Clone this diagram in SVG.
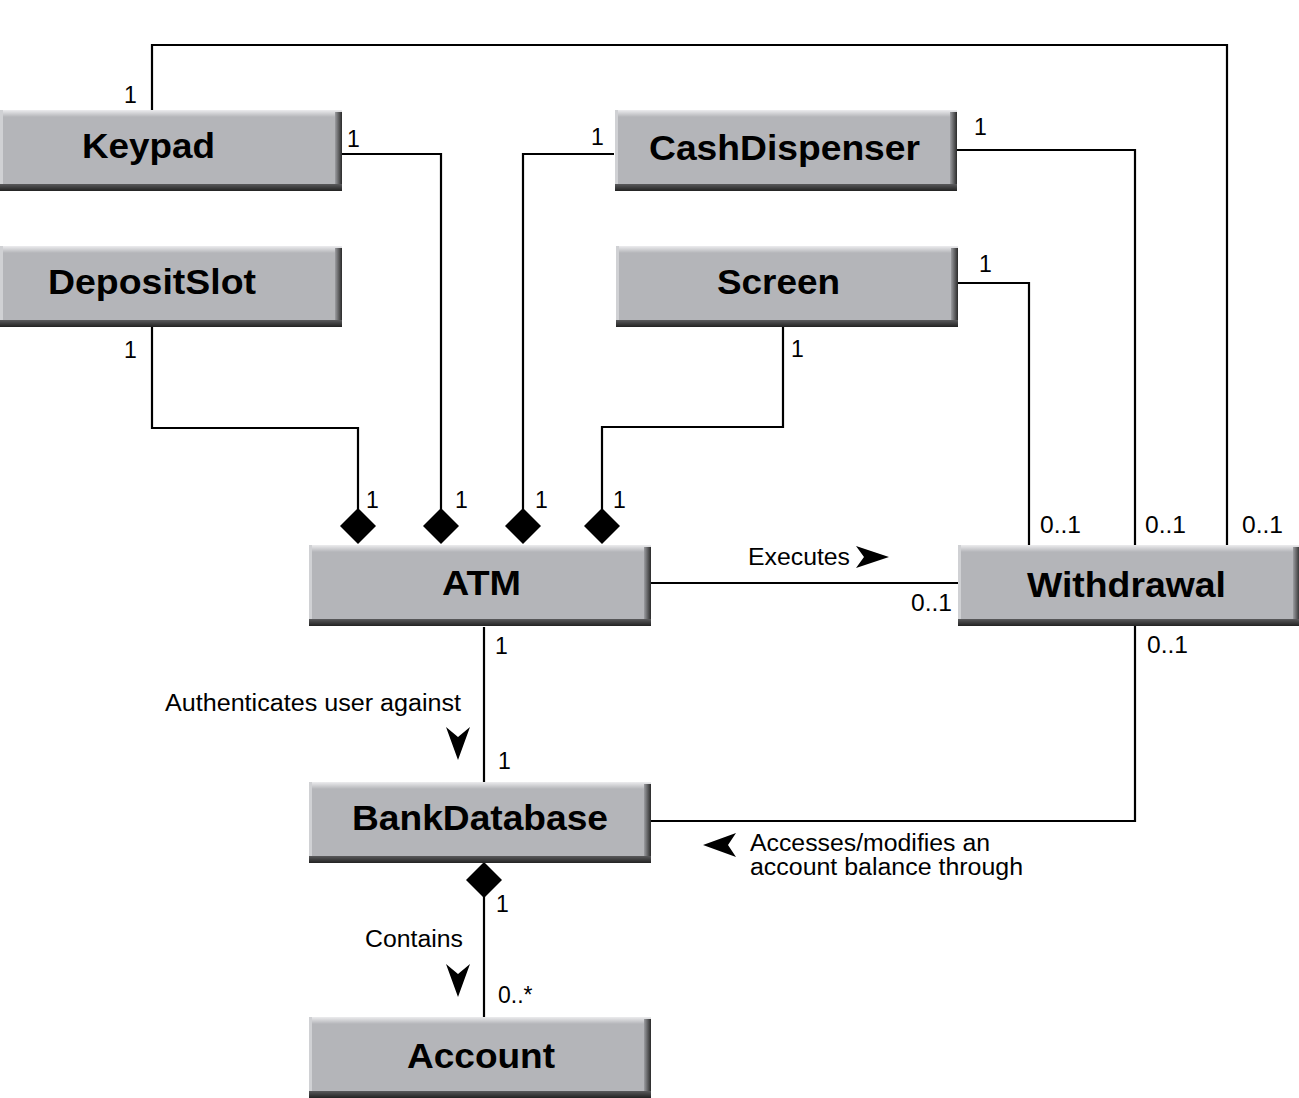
<svg xmlns="http://www.w3.org/2000/svg" xmlns:xlink="http://www.w3.org/1999/xlink" width="1299" height="1098" viewBox="0 0 1299 1098">
<style>
.lbl{font-family:"Liberation Sans",Arial,sans-serif;font-size:23px;fill:#000}
.ttl{font-family:"Liberation Sans",Arial,sans-serif;font-size:35px;font-weight:bold;fill:#000;text-anchor:middle}
.ln{fill:none;stroke:#000;stroke-width:2.2}
.dia,.arr{fill:#000}
</style>
<defs>
<linearGradient id="gTop" x1="0" y1="0" x2="0" y2="1"><stop offset="0" stop-color="#ececee"/><stop offset="1" stop-color="#b4b5b9"/></linearGradient>
<linearGradient id="gRight" x1="0" y1="0" x2="1" y2="0"><stop offset="0" stop-color="#9c9da1"/><stop offset="1" stop-color="#2a2a2a"/></linearGradient>
<linearGradient id="gBot" x1="0" y1="0" x2="0" y2="1"><stop offset="0" stop-color="#5a5a5c"/><stop offset="1" stop-color="#222"/></linearGradient>
<g id="box">
<rect x="0" y="0" width="342" height="81" fill="#b4b5b9"/>
<rect x="0" y="0" width="342" height="7" fill="url(#gTop)"/>
<rect x="0" y="0" width="3" height="81" fill="#d0d1d4"/>
<rect x="335" y="2" width="7" height="79" fill="url(#gRight)"/>
<rect x="0" y="74" width="342" height="7" fill="url(#gBot)"/>
</g>
</defs>
<rect width="1299" height="1098" fill="#fff"/>

<g id="connectors">
<polyline class="ln" points="152,110 152,45 1227,45 1227,545"/>
<polyline class="ln" points="342,154 441,154 441,509"/>
<polyline class="ln" points="152,327 152,428 358,428 358,509"/>
<polyline class="ln" points="614,154 523,154 523,509"/>
<polyline class="ln" points="783,327 783,427 602,427 602,509"/>
<polyline class="ln" points="957,150 1135,150 1135,545"/>
<polyline class="ln" points="958,283 1029,283 1029,545"/>
<line class="ln" x1="651" y1="583" x2="958" y2="583"/>
<line class="ln" x1="484" y1="627" x2="484" y2="782"/>
<polyline class="ln" points="1135,626 1135,821 651,821"/>
<line class="ln" x1="484" y1="880" x2="484" y2="1017"/>
<polygon class="dia" points="358,508 376,526 358,544 340,526"/>
<polygon class="dia" points="441,508 459,526 441,544 423,526"/>
<polygon class="dia" points="523,508 541,526 523,544 505,526"/>
<polygon class="dia" points="602,508 620,526 602,544 584,526"/>
<polygon class="dia" points="484,862 502,880 484,898 466,880"/>
<polygon class="arr" points="889,557 856,546 864,557 856,568"/>
<polygon class="arr" points="458,760 446,727 458,737 470,727"/>
<polygon class="arr" points="458,997 446,964 458,974 470,964"/>
<polygon class="arr" points="703,845 736,833 728,845 736,857"/>
<text class="lbl" x="124" y="103">1</text>
<text class="lbl" x="347" y="147">1</text>
<text class="lbl" x="591" y="145">1</text>
<text class="lbl" x="974" y="135">1</text>
<text class="lbl" x="979" y="272">1</text>
<text class="lbl" x="124" y="358">1</text>
<text class="lbl" x="791" y="357">1</text>
<text class="lbl" x="366" y="508">1</text>
<text class="lbl" x="455" y="508">1</text>
<text class="lbl" x="535" y="508">1</text>
<text class="lbl" x="613" y="508">1</text>
<text class="lbl" x="1040" y="533" textLength="41" lengthAdjust="spacingAndGlyphs">0..1</text>
<text class="lbl" x="1145" y="533" textLength="41" lengthAdjust="spacingAndGlyphs">0..1</text>
<text class="lbl" x="1242" y="533" textLength="41" lengthAdjust="spacingAndGlyphs">0..1</text>
<text class="lbl" x="1147" y="653" textLength="41" lengthAdjust="spacingAndGlyphs">0..1</text>
<text class="lbl" x="911" y="611" textLength="41" lengthAdjust="spacingAndGlyphs">0..1</text>
<text class="lbl" x="748" y="565" textLength="102" lengthAdjust="spacingAndGlyphs">Executes</text>
<text class="lbl" x="495" y="654">1</text>
<text class="lbl" x="165" y="711" textLength="296" lengthAdjust="spacingAndGlyphs">Authenticates user against</text>
<text class="lbl" x="498" y="769">1</text>
<text class="lbl" x="750" y="851" font-size="20" textLength="240" lengthAdjust="spacingAndGlyphs">Accesses/modifies an</text>
<text class="lbl" x="750" y="875" font-size="20" textLength="273" lengthAdjust="spacingAndGlyphs">account balance through</text>
<text class="lbl" x="496" y="912">1</text>
<text class="lbl" x="365" y="947" textLength="98" lengthAdjust="spacingAndGlyphs">Contains</text>
<text class="lbl" x="498" y="1003">0..*</text>
</g>

<g id="Keypad"><use xlink:href="#box" x="0" y="110"/><text class="ttl" x="148.5" y="158" textLength="133" lengthAdjust="spacingAndGlyphs">Keypad</text></g>
<g id="DepositSlot"><use xlink:href="#box" x="0" y="246"/><text class="ttl" x="152" y="294" textLength="208" lengthAdjust="spacingAndGlyphs">DepositSlot</text></g>
<g id="CashDispenser"><use xlink:href="#box" x="615" y="110"/><text class="ttl" x="784.5" y="160" textLength="271" lengthAdjust="spacingAndGlyphs">CashDispenser</text></g>
<g id="Screen"><use xlink:href="#box" x="616" y="246"/><text class="ttl" x="778.5" y="294" textLength="123" lengthAdjust="spacingAndGlyphs">Screen</text></g>
<g id="ATM"><use xlink:href="#box" x="309" y="545"/><text class="ttl" x="481.5" y="595" textLength="79" lengthAdjust="spacingAndGlyphs">ATM</text></g>
<g id="Withdrawal"><use xlink:href="#box" x="958" y="545"/><text class="ttl" x="1126.5" y="597" textLength="199" lengthAdjust="spacingAndGlyphs">Withdrawal</text></g>
<g id="BankDatabase"><use xlink:href="#box" x="309" y="782"/><text class="ttl" x="480" y="830" textLength="256" lengthAdjust="spacingAndGlyphs">BankDatabase</text></g>
<g id="Account"><use xlink:href="#box" x="309" y="1017"/><text class="ttl" x="481" y="1068" textLength="148" lengthAdjust="spacingAndGlyphs">Account</text></g>
</svg>
